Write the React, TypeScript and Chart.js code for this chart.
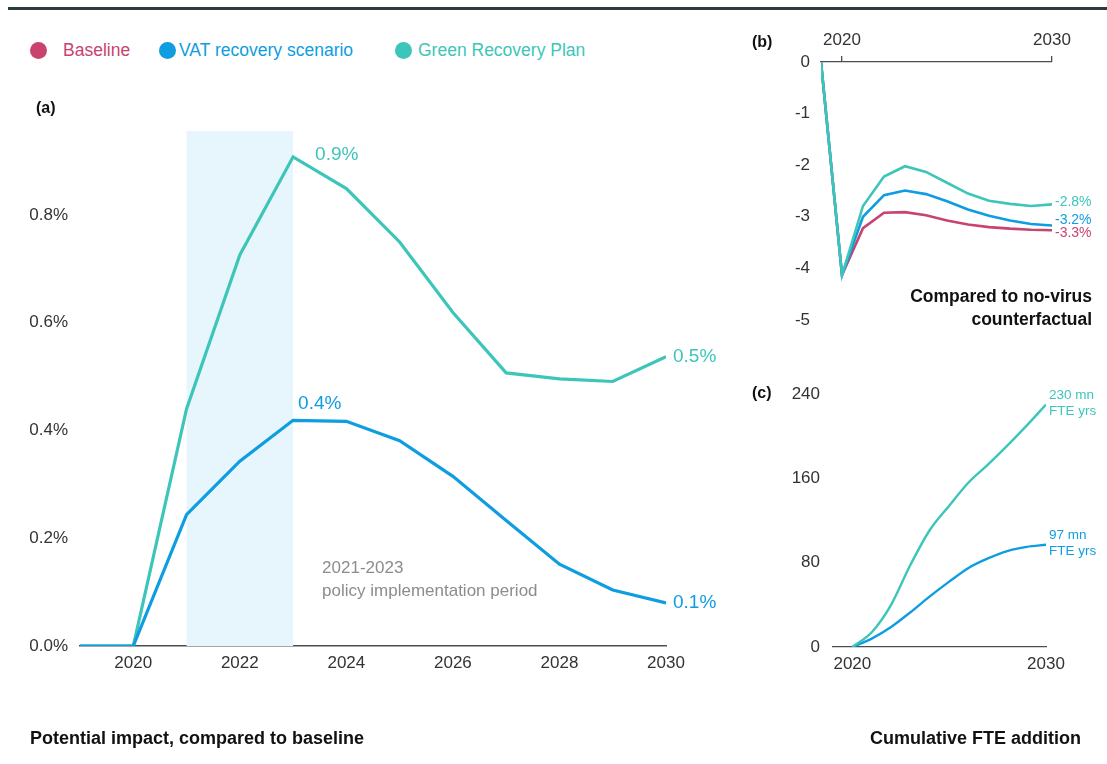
import React, { useEffect, useRef } from 'react';
import { Chart, registerables } from 'chart.js';

Chart.register(...registerables);

const FONT = '"Liberation Sans", Arial, Helvetica, sans-serif';

// ---- shared ----
const seriesNames = ['Baseline', 'VAT recovery scenario', 'Green Recovery Plan'];
const seriesColors = ['#c9436f', '#0e9de0', '#3dc5ba'];

// ---- panel (a): potential impact, compared to baseline (%) ----
const yearsA = [2019, 2020, 2021, 2022, 2023, 2024, 2025, 2026, 2027, 2028, 2029, 2030];
const vatImpact = [0, 0, 0.244, 0.343, 0.419, 0.417, 0.381, 0.315, 0.233, 0.152, 0.104, 0.08];
const greenImpact = [0, 0, 0.44, 0.726, 0.908, 0.849, 0.75, 0.619, 0.507, 0.496, 0.491, 0.537];
const xTicksA = [2020, 2022, 2024, 2026, 2028, 2030];
const yTicksA = [0, 0.2, 0.4, 0.6, 0.8];
const policyPeriod = [2021, 2023];
const policyLabel = 'policy implementation period';

// ---- panel (b): compared to no-virus counterfactual (%) ----
const yearsB = [2019, 2020, 2021, 2022, 2023, 2024, 2025, 2026, 2027, 2028, 2029, 2030];
const baselineB = [0, -4.13, -3.22, -2.92, -2.91, -2.97, -3.07, -3.15, -3.2, -3.23, -3.25, -3.26];
const vatB = [0, -4.13, -3.0, -2.58, -2.49, -2.56, -2.7, -2.86, -2.98, -3.07, -3.14, -3.17];
const greenB = [0, -4.13, -2.79, -2.22, -2.02, -2.13, -2.34, -2.55, -2.69, -2.75, -2.79, -2.76];
const endLabelsB = ['-3.3%', '-3.2%', '-2.8%'];
const xTicksB = [2020, 2030];
const yTicksB = [0, -1, -2, -3, -4, -5];

// ---- panel (c): cumulative FTE addition (mn FTE years) ----
const yearsC = [2020, 2021, 2022, 2023, 2024, 2025, 2026, 2027, 2028, 2029, 2030];
const vatFTE = [0, 8, 19, 33, 48, 62, 75, 84, 91, 95, 97];
const greenFTE = [0, 14, 40, 78, 111, 134, 156, 173, 191, 210, 230];
const endLabelsC = [['97 mn', 'FTE yrs'], ['230 mn', 'FTE yrs']];
const xTicksC = [2020, 2030];
const yTicksC = [0, 80, 160, 240];

const AXIS = '#4a4f55';
const TICK = '#333333';

const pts = (xs: number[], ys: number[]) => xs.map((x, i) => ({ x, y: ys[i] }));

function makeA(canvas: HTMLCanvasElement) {
  const plugin = {
    id: 'panelA',
    beforeDatasetsDraw(chart: any) {
      const { ctx, chartArea, scales } = chart;
      const x0 = scales.x.getPixelForValue(policyPeriod[0]);
      const x1 = scales.x.getPixelForValue(policyPeriod[1]);
      ctx.save();
      ctx.fillStyle = '#e7f5fc';
      ctx.fillRect(x0, chartArea.top, x1 - x0, chartArea.bottom - chartArea.top);
      ctx.restore();
    },
    afterDatasetsDraw(chart: any) {
      const { ctx, scales } = chart;
      const { x, y } = scales;
      ctx.save();
      ctx.textBaseline = 'middle';
      ctx.textAlign = 'left';
      ctx.font = `19px ${FONT}`;
      const put = (vals: number[], idx: number, color: string, dx: number, dy: number) => {
        const px = x.getPixelForValue(yearsA[idx]);
        const py = y.getPixelForValue(vals[idx]);
        ctx.fillStyle = color;
        ctx.fillText(vals[idx].toFixed(1) + '%', px + dx, py + dy);
      };
      const argmax = (a: number[]) => a.indexOf(Math.max(...a));
      const last = yearsA.length - 1;
      put(greenImpact, argmax(greenImpact), seriesColors[2], 22, -2);
      put(vatImpact, argmax(vatImpact), seriesColors[1], 5, -17);
      put(greenImpact, last, seriesColors[2], 7, 0);
      put(vatImpact, last, seriesColors[1], 7, 0);
      // annotation
      const ax = x.getPixelForValue(policyPeriod[1]) + 29;
      const ay = y.getPixelForValue(0) - 78;
      ctx.fillStyle = '#8c8c8c';
      ctx.font = `17px ${FONT}`;
      ctx.fillText(`${policyPeriod[0]}-${policyPeriod[1]}`, ax, ay);
      ctx.fillText(policyLabel, ax, ay + 23);
      ctx.restore();
    },
  };
  return new Chart(canvas, {
    type: 'line',
    data: {
      datasets: [
        { label: seriesNames[1], data: pts(yearsA, vatImpact), borderColor: seriesColors[1], borderWidth: 3.2, pointRadius: 0, tension: 0 },
        { label: seriesNames[2], data: pts(yearsA, greenImpact), borderColor: seriesColors[2], borderWidth: 3.2, pointRadius: 0, tension: 0 },
      ],
    },
    options: {
      responsive: false,
      animation: false,
      devicePixelRatio: 1,
      events: [],
      layout: { padding: { left: 0, right: 1107 - 666, top: 131, bottom: 764 - 646 - 30 } },
      plugins: { legend: { display: false }, tooltip: { enabled: false } },
      scales: {
        x: {
          type: 'linear',
          min: yearsA[0],
          max: yearsA[yearsA.length - 1],
          afterBuildTicks: (s: any) => { s.ticks = xTicksA.map((v) => ({ value: v })); },
          afterFit: (s: any) => { s.height = 30; },
          grid: { display: false, drawTicks: false },
          border: { display: true, color: AXIS, width: 1.5 },
          ticks: { color: TICK, font: { family: FONT, size: 17 }, padding: 7, maxRotation: 0, autoSkip: false, callback: (v: any) => String(v) },
        },
        y: {
          min: 0,
          max: 0.956,
          afterBuildTicks: (s: any) => { s.ticks = yTicksA.map((v) => ({ value: v })); },
          afterFit: (s: any) => { s.width = 80; },
          grid: { display: false, drawTicks: false },
          border: { display: false },
          ticks: { color: TICK, font: { family: FONT, size: 17 }, padding: 12, callback: (v: any) => Number(v).toFixed(1) + '%' },
        },
      },
    },
    plugins: [plugin],
  } as any);
}

function makeB(canvas: HTMLCanvasElement) {
  const plugin = {
    id: 'panelB',
    afterDatasetsDraw(chart: any) {
      const { ctx, scales } = chart;
      const last = yearsB.length - 1;
      const px = scales.x.getPixelForValue(yearsB[last]) + 3;
      const series = [baselineB, vatB, greenB];
      const dys = [3, -5, -2];
      ctx.save();
      ctx.textBaseline = 'middle';
      ctx.textAlign = 'left';
      ctx.font = `14px ${FONT}`;
      series.forEach((s, i) => {
        ctx.fillStyle = seriesColors[i];
        ctx.fillText(endLabelsB[i], px, scales.y.getPixelForValue(s[last]) + dys[i]);
      });
      ctx.restore();
    },
  };
  return new Chart(canvas, {
    type: 'line',
    data: {
      datasets: [
        { label: seriesNames[2], data: pts(yearsB, greenB), borderColor: seriesColors[2], borderWidth: 2.6, pointRadius: 0, tension: 0 },
        { label: seriesNames[1], data: pts(yearsB, vatB), borderColor: seriesColors[1], borderWidth: 2.6, pointRadius: 0, tension: 0 },
        { label: seriesNames[0], data: pts(yearsB, baselineB), borderColor: seriesColors[0], borderWidth: 2.6, pointRadius: 0, tension: 0 },
      ],
    },
    options: {
      responsive: false,
      animation: false,
      devicePixelRatio: 1,
      events: [],
      layout: { padding: { left: 821 - 40, right: 1107 - 1052, top: 62 - 36, bottom: 764 - 320 } },
      plugins: { legend: { display: false }, tooltip: { enabled: false } },
      scales: {
        x: {
          type: 'linear',
          position: 'top',
          min: yearsB[0],
          max: yearsB[yearsB.length - 1],
          afterBuildTicks: (s: any) => { s.ticks = xTicksB.map((v) => ({ value: v })); },
          afterFit: (s: any) => { s.height = 36; },
          grid: { display: true, drawOnChartArea: false, drawTicks: true, tickLength: 6, color: AXIS, lineWidth: 1.3 },
          border: { display: true, color: AXIS, width: 1.3 },
          ticks: { color: TICK, font: { family: FONT, size: 17 }, padding: 5, maxRotation: 0, autoSkip: false, callback: (v: any) => String(v) },
        },
        y: {
          min: -5,
          max: 0,
          afterBuildTicks: (s: any) => { s.ticks = yTicksB.map((v) => ({ value: v })); },
          afterFit: (s: any) => { s.width = 40; },
          grid: { display: false, drawTicks: false },
          border: { display: false },
          ticks: { color: TICK, font: { family: FONT, size: 17 }, padding: 11, callback: (v: any) => String(v) },
        },
      },
    },
    plugins: [plugin],
  } as any);
}

function makeC(canvas: HTMLCanvasElement) {
  const plugin = {
    id: 'panelC',
    afterDatasetsDraw(chart: any) {
      const { ctx, scales } = chart;
      const last = yearsC.length - 1;
      const px = scales.x.getPixelForValue(yearsC[last]) + 3;
      const series = [vatFTE, greenFTE];
      const colors = [seriesColors[1], seriesColors[2]];
      ctx.save();
      ctx.textBaseline = 'middle';
      ctx.textAlign = 'left';
      ctx.font = `13.5px ${FONT}`;
      series.forEach((s, i) => {
        const py = scales.y.getPixelForValue(s[last]);
        ctx.fillStyle = colors[i];
        ctx.fillText(endLabelsC[i][0], px, py - 9);
        ctx.fillText(endLabelsC[i][1], px, py + 7);
      });
      ctx.restore();
    },
  };
  return new Chart(canvas, {
    type: 'line',
    data: {
      datasets: [
        { label: seriesNames[2], data: pts(yearsC, greenFTE), borderColor: seriesColors[2], borderWidth: 2.4, pointRadius: 0, cubicInterpolationMode: 'monotone' },
        { label: seriesNames[1], data: pts(yearsC, vatFTE), borderColor: seriesColors[1], borderWidth: 2.4, pointRadius: 0, cubicInterpolationMode: 'monotone' },
      ],
    },
    options: {
      responsive: false,
      animation: false,
      devicePixelRatio: 1,
      events: [],
      layout: { padding: { left: 833 - 50, right: 1107 - 1046, top: 394, bottom: 764 - 647 - 30 } },
      plugins: { legend: { display: false }, tooltip: { enabled: false } },
      scales: {
        x: {
          type: 'linear',
          min: 2019,
          max: yearsC[yearsC.length - 1],
          afterBuildTicks: (s: any) => { s.ticks = xTicksC.map((v) => ({ value: v })); },
          afterFit: (s: any) => { s.height = 30; },
          grid: { display: false, drawTicks: false },
          border: { display: true, color: AXIS, width: 1.3 },
          ticks: { color: TICK, font: { family: FONT, size: 17 }, padding: 7, maxRotation: 0, autoSkip: false, callback: (v: any) => String(v) },
        },
        y: {
          min: 0,
          max: 240,
          afterBuildTicks: (s: any) => { s.ticks = yTicksC.map((v) => ({ value: v })); },
          afterFit: (s: any) => { s.width = 50; },
          grid: { display: false, drawTicks: false },
          border: { display: false },
          ticks: { color: TICK, font: { family: FONT, size: 17 }, padding: 13, callback: (v: any) => String(v) },
        },
      },
    },
    plugins: [plugin],
  } as any);
}

const abs = (left: number, top: number, extra: React.CSSProperties = {}): React.CSSProperties => ({
  position: 'absolute',
  left,
  top,
  whiteSpace: 'nowrap',
  lineHeight: 1,
  ...extra,
});

export default function App() {
  const refA = useRef<HTMLCanvasElement>(null);
  const refB = useRef<HTMLCanvasElement>(null);
  const refC = useRef<HTMLCanvasElement>(null);

  useEffect(() => {
    const charts = [makeA(refA.current!), makeB(refB.current!), makeC(refC.current!)];
    return () => charts.forEach((c) => c.destroy());
  }, []);

  const canvasStyle: React.CSSProperties = { position: 'absolute', left: 0, top: 0, width: 1107, height: 764 };
  const legendCircles = [38, 167, 403];
  const legendTexts = [63, 179, 418];

  return (
    <div style={{ position: 'absolute', left: 0, top: 0, width: 1107, height: 764, background: '#fff', fontFamily: FONT, overflow: 'hidden' }}>
      <div style={{ position: 'absolute', left: 8, top: 7, width: 1099, height: 3, background: '#2d3b40' }} />
      {seriesNames.map((name, i) => (
        <React.Fragment key={name}>
          <div style={{ position: 'absolute', left: legendCircles[i] - 8.5, top: 50 - 8.5, width: 17, height: 17, borderRadius: '50%', background: seriesColors[i] }} />
          <div style={abs(legendTexts[i], 50 - 9, { fontSize: 17.5, color: seriesColors[i], lineHeight: '18px' })}>{name}</div>
        </React.Fragment>
      ))}
      <canvas ref={refA} width={1107} height={764} style={canvasStyle} />
      <canvas ref={refB} width={1107} height={764} style={canvasStyle} />
      <canvas ref={refC} width={1107} height={764} style={canvasStyle} />
      <div style={abs(36, 100, { fontSize: 16, fontWeight: 700, color: '#111' })}>(a)</div>
      <div style={abs(752, 34, { fontSize: 16, fontWeight: 700, color: '#111' })}>(b)</div>
      <div style={abs(752, 385, { fontSize: 16, fontWeight: 700, color: '#111' })}>(c)</div>
      <div style={{ position: 'absolute', right: 1107 - 1092, top: 285, textAlign: 'right', fontSize: 17.5, fontWeight: 700, color: '#111', lineHeight: '23px', whiteSpace: 'nowrap' }}>
        Compared to no-virus<br />counterfactual
      </div>
      <div style={abs(30, 729, { fontSize: 18, fontWeight: 700, color: '#111' })}>Potential impact, compared to baseline</div>
      <div style={{ position: 'absolute', right: 1107 - 1081, top: 729, fontSize: 18, fontWeight: 700, color: '#111', lineHeight: 1, whiteSpace: 'nowrap' }}>
        Cumulative FTE addition
      </div>
    </div>
  );
}
